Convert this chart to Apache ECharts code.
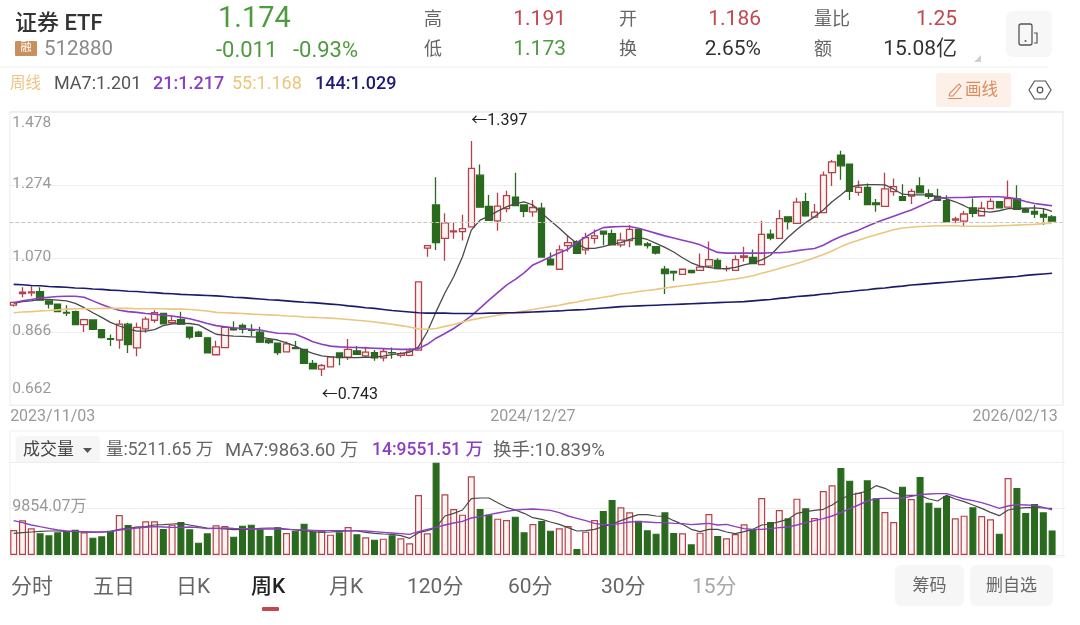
<!DOCTYPE html>
<html>
<head>
<meta charset="utf-8">
<title>证券ETF 周线</title>
<script src="https://cdn.jsdelivr.net/npm/echarts@6/dist/echarts.min.js"></script>
<style>
html, body {margin: 0; padding: 0; background: #fff;}
#chart {width: 1080px; height: 625px;}
</style>
</head>
<body>
<div id="chart"></div>
<script>
// 周K，每行 [开, 收, 低, 高]
var candleData = [
	[.940,.948,.936,.950],[.972,.976,.962,.990],[.974,.977,.965,.993],[.978,.954,.952,.990],[.952,.943,.931,.952],
	[.943,.922,.922,.945],[.920,.918,.910,.940],[.922,.886,.884,.925],[.886,.900,.865,.902],[.899,.873,.873,.901],
	[.872,.850,.847,.873],[.847,.845,.826,.858],[.843,.887,.819,.899],[.887,.830,.807,.891],[.821,.878,.798,.891],
	[.874,.901,.863,.908],[.898,.919,.891,.926],[.917,.888,.887,.919],[.891,.897,.887,.912],[.900,.887,.887,.922],
	[.879,.851,.845,.880],[.865,.853,.853,.869],[.849,.807,.807,.850],[.802,.824,.800,.841],[.822,.878,.820,.880],
	[.875,.871,.869,.895],[.884,.873,.861,.889],[.872,.870,.854,.887],[.865,.837,.835,.880],[.843,.836,.832,.847],
	[.834,.808,.801,.835],[.810,.832,.808,.839],[.822,.819,.817,.840],[.817,.778,.778,.817],[.778,.763,.761,.787],
	[.762,.772,.743,.776],[.768,.796,.768,.798],[.807,.794,.773,.808],[.795,.817,.787,.846],[.813,.803,.801,.826],
	[.799,.809,.796,.824],[.808,.793,.785,.815],[.793,.811,.784,.818],[.808,.807,.791,.822],[.800,.805,.794,.809],
	[.800,.812,.798,.820],[.815,1.005,.813,1.005],[1.099,1.106,1.075,1.106],[1.219,1.114,1.094,1.296],[1.126,1.169,1.064,1.196],
	[1.144,1.147,1.125,1.170],[1.145,1.153,1.120,1.192],[1.158,1.321,1.158,1.397],[1.302,1.213,1.213,1.332],[1.215,1.176,1.176,1.247],
	[1.175,1.216,1.147,1.253],[1.209,1.245,1.199,1.259],[1.241,1.217,1.217,1.309],[1.219,1.201,1.185,1.219],[1.200,1.212,1.186,1.233],
	[1.210,1.074,1.074,1.225],[1.068,1.052,1.052,1.087],[1.040,1.094,1.040,1.107],[1.106,1.114,1.089,1.135],[1.117,1.084,1.084,1.121],
	[1.094,1.128,1.081,1.142],[1.126,1.133,1.112,1.151],[1.146,1.138,1.107,1.146],[1.139,1.108,1.108,1.151],[1.108,1.121,1.101,1.142],
	[1.120,1.151,1.101,1.163],[1.151,1.108,1.108,1.154],[1.111,1.106,1.098,1.116],[1.103,1.085,1.081,1.105],[1.040,1.028,.971,1.049],
	[1.034,1.030,1.008,1.034],[1.026,1.040,1.026,1.040],[1.037,1.031,1.028,1.038],[1.037,1.046,1.035,1.084],[1.049,1.067,1.046,1.117],
	[1.065,1.042,1.041,1.071],[1.041,1.042,1.034,1.050],[1.037,1.067,1.037,1.079],[1.073,1.077,1.061,1.103],[1.073,1.056,1.054,1.095],
	[1.053,1.137,1.053,1.175],[1.138,1.127,1.121,1.151],[1.126,1.181,1.126,1.205],[1.186,1.171,1.151,1.186],[1.168,1.227,1.168,1.239],
	[1.228,1.189,1.186,1.253],[1.185,1.199,1.185,1.222],[1.198,1.302,1.198,1.312],[1.309,1.339,1.272,1.344],[1.358,1.328,1.289,1.370],
	[1.333,1.257,1.233,1.333],[1.254,1.268,1.245,1.287],[1.268,1.220,1.220,1.279],[1.225,1.220,1.200,1.236],[1.215,1.264,1.215,1.309],
	[1.256,1.270,1.245,1.293],[1.242,1.232,1.232,1.277],[1.244,1.257,1.222,1.264],[1.272,1.253,1.253,1.296],[1.250,1.243,1.236,1.263],
	[1.243,1.232,1.232,1.264],[1.231,1.172,1.172,1.246],[1.177,1.180,1.168,1.186],[1.174,1.194,1.159,1.202],[1.211,1.196,1.185,1.237],
	[1.189,1.210,1.189,1.228],[1.209,1.229,1.209,1.238],[1.228,1.211,1.211,1.228],[1.213,1.237,1.213,1.287],[1.236,1.207,1.207,1.274],
	[1.207,1.199,1.199,1.212],[1.201,1.194,1.183,1.219],[1.193,1.185,1.163,1.208],[1.186,1.174,1.173,1.191]
];

// 均线
var ma7 = [
	.945,.950,.952,.956,.956,.954,.952,.945,.933,.919,.906,.892,.882,.874,.868,.868,.872,.883,.888,.889,
	.889,.885,.872,.859,.856,.854,.853,.852,.851,.847,.843,.835,.826,.815,.806,.799,.796,.795,.794,.794,
	.795,.795,.798,.802,.806,.809,.824,.866,.922,.974,1.019,1.075,1.149,1.177,1.188,1.202,1.214,1.223,1.228,1.219,
	1.196,1.175,1.154,1.132,1.112,1.098,1.098,1.103,1.110,1.114,1.123,1.129,1.123,1.112,1.101,1.088,1.072,1.058,1.049,1.045,
	1.042,1.042,1.045,1.052,1.058,1.066,1.079,1.105,1.129,1.151,1.170,1.186,1.205,1.228,1.247,1.268,1.274,1.276,1.276,1.275,
	1.263,1.249,1.247,1.247,1.247,1.242,1.236,1.228,1.217,1.205,1.201,1.199,1.203,1.209,1.210,1.210,1.211,1.209,1.201
];
var ma21 = [
	.947,.952,.956,.960,.962,.964,.965,.965,.962,.952,.942,.933,.926,.922,.920,.917,.915,.912,.910,.906,
	.902,.896,.889,.883,.880,.877,.875,.873,.871,.866,.862,.861,.859,.849,.838,.831,.826,.824,.823,.822,
	.821,.820,.819,.818,.817,.817,.819,.831,.848,.861,.875,.892,.910,.932,.954,.975,.996,1.012,1.030,1.052,
	1.063,1.075,1.086,1.096,1.115,1.130,1.145,1.156,1.158,1.159,1.159,1.154,1.147,1.140,1.133,1.127,1.121,1.115,1.108,1.097,
	1.087,1.085,1.085,1.085,1.085,1.085,1.086,1.086,1.088,1.092,1.095,1.098,1.107,1.120,1.131,1.140,1.149,1.160,1.170,1.179,
	1.188,1.197,1.205,1.216,1.227,1.238,1.239,1.240,1.240,1.241,1.242,1.242,1.242,1.240,1.236,1.229,1.223,1.220,1.217
];
var ma55 = [
	.919,.921,.922,.924,.925,.927,.929,.930,.930,.930,.931,.931,.931,.931,.930,.930,.930,.930,.929,.929,
	.928,.926,.924,.920,.919,.918,.917,.915,.914,.913,.912,.910,.909,.907,.906,.905,.904,.902,.900,.898,
	.896,.893,.890,.887,.883,.879,.874,.873,.875,.881,.886,.893,.899,.904,.908,.912,.916,.920,.924,.928,
	.932,.936,.940,.945,.949,.954,.958,.962,.966,.971,.974,.978,.981,.984,.988,.991,.994,.997,1.000,1.003,
	1.006,1.010,1.013,1.017,1.022,1.029,1.035,1.042,1.049,1.056,1.064,1.072,1.081,1.091,1.103,1.113,1.121,1.129,1.136,1.143,
	1.150,1.155,1.157,1.159,1.160,1.161,1.161,1.161,1.160,1.160,1.160,1.160,1.161,1.162,1.163,1.164,1.165,1.167,1.168
];
var ma144 = [
	.998,.997,.995,.994,.992,.991,.990,.988,.987,.985,.984,.982,.981,.979,.978,.976,.975,.973,.972,.970,
	.969,.968,.967,.966,.964,.962,.961,.959,.957,.955,.954,.952,.950,.948,.947,.945,.943,.941,.938,.936,
	.933,.931,.928,.925,.923,.921,.919,.918,.918,.918,.917,.917,.917,.917,.918,.918,.919,.919,.920,.921,
	.922,.923,.924,.926,.927,.928,.930,.932,.934,.936,.937,.938,.939,.940,.941,.942,.943,.944,.945,.946,
	.947,.948,.949,.950,.952,.954,.956,.959,.961,.964,.966,.968,.971,.973,.976,.978,.981,.983,.986,.988,
	.991,.993,.996,.998,1.000,1.002,1.004,1.006,1.008,1.010,1.012,1.014,1.016,1.018,1.020,1.023,1.025,1.027,1.029
];

// 成交量（万）
var volume = [
	5298,7347,5651,4592,4168,4804,5086,5369,4804,3673,3956,5157,8477,6358,6004,7135,7135,5510,6428,6993,
	5439,2614,4592,6287,6146,3885,6216,6428,5439,4026,5863,4662,5157,6640,4874,5157,4309,4804,5934,4380,
	3744,3249,3461,4168,3532,2472,12715,4592,19567,12856,9748,8547,16671,9748,8547,7700,7417,8124,4804,6570,
	7205,5157,5651,6146,1272,4945,7417,9324,11656,10102,9042,7276,5227,4521,9042,4662,4592,2260,4733,8689,
	4026,3532,4450,6499,5439,12079,6993,9536,7770,11938,9890,7841,13563,14764,18437,15753,13210,15823,12009,9113,
	6993,14481,11868,16530,11090,10031,12503,7770,8336,10102,8265,7559,4521,16318,14199,8901,10808,9042,5212
];
var volMa7 = [
	4592,4733,4874,5015,5086,5086,5015,4945,4874,4804,4874,5015,5439,5651,5934,6004,6358,6428,6570,6640,
	6358,6004,5722,5651,5510,5369,5439,5439,5651,5722,5722,5510,5298,5157,4945,4804,4874,5015,5086,5086,
	4804,4592,4450,4380,4097,3532,4733,5157,5792,8265,8830,9536,11938,12079,12079,11090,10102,9536,8830,7912,
	7558,6993,6499,5792,5086,5157,5439,6004,6570,7276,7982,8547,8547,8265,8194,7276,6499,5439,4945,5439,
	5439,4874,4521,4945,5439,6358,6570,7064,7558,8830,9183,9466,9678,10596,11797,12715,13068,13563,14693,14128,
	13210,12715,12645,12645,11868,11444,12645,11868,11302,10596,9890,9042,8336,9536,9890,10031,10102,9960,9864
];
var volMa14 = [
	7276,6852,6358,6004,5651,5298,5086,5015,4945,4874,4874,4945,5298,5510,5722,5863,6004,5934,5863,5863,
	5934,5792,5581,5651,5722,5651,5581,5510,5510,5510,5510,5439,5369,5298,5227,5157,5157,5157,5157,5157,
	5086,4945,4804,4662,4521,4380,4945,5439,5863,6358,6781,7135,7841,8124,8547,8901,9254,9536,9678,9748,
	9607,9466,8971,8265,7770,7276,6711,6428,6428,6711,6993,7064,6993,6852,6852,6711,6640,6428,6570,6711,
	6358,6499,6004,5581,5439,5439,5581,5792,5934,6358,6852,7276,7700,8265,8971,9819,10596,11444,11938,12009,
	12009,12079,12433,12786,12927,12998,12998,12433,11868,11514,11090,10525,9890,10384,10667,10596,10525,10102,9552
];

// 坐标轴刻度
var priceTicks = ['0.662', '0.866', '1.070', '1.274', '1.478'];
var volTick = 9854.07;
var dateIndex = [0, 59, 118];
var dateLabels = ['2023/11/03', '2024/12/27', '2026/02/13'];
var lastPrice = 1.174;
var highMark = [52, 1.397];
var lowMark = [35, 0.743];

var RED = '#b5424a';
var GREEN = '#2a6a1e';
var HOLLOW = '#fdf4f1';
var FONT = 'Roboto, "Noto Sans CJK SC", sans-serif';

// x轴多留一格空白
function getCategories() {
	var arr = [];
	for (var i = 0; i < candleData.length + 1; i++) {
		var k = dateIndex.indexOf(i);
		arr.push(k >= 0 ? dateLabels[k] : '');
	}
	return arr;
}

// 成交量柱的颜色跟K线涨跌走
function getVolumeData() {
	var arr = [];
	for (var i = 0; i < volume.length; i++) {
		var up = candleData[i][1] >= candleData[i][0];
		arr.push({
			value: volume[i],
			itemStyle: {
				color: up ? HOLLOW : GREEN,
				borderColor: up ? RED : GREEN,
				borderWidth: 1.2
			}
		});
	}
	return arr;
}

function getLine(name, data, color, width, xIndex) {
	return {
		name: name,
		type: 'line',
		data: data,
		xAxisIndex: xIndex,
		yAxisIndex: xIndex,
		symbol: 'none',
		silent: true,
		lineStyle: {color: color, width: width}
	};
}

// 文字
function txt(x, y, str, size, color, align, weight) {
	return {
		type: 'text',
		x: x,
		y: y,
		style: {
			text: str,
			fontSize: size,
			fontFamily: FONT,
			fontWeight: weight || 'normal',
			fill: color,
			align: align || 'left',
			verticalAlign: 'middle'
		}
	};
}

function box(x, y, w, h, fill, r, z) {
	return {type: 'rect', z: z || 0, shape: {x: x, y: y, width: w, height: h, r: r || 0}, style: {fill: fill}};
}

function hline(x1, x2, y, color) {
	return {type: 'line', shape: {x1: x1, y1: y, x2: x2, y2: y}, style: {stroke: color, lineWidth: 1}};
}

function getGraphics() {
	var g = [];
	// 面板边框
	g.push({type: 'rect', shape: {x: 10, y: 111.5, width: 1053, height: 293.5}, style: {fill: 'none', stroke: '#ececec', lineWidth: 1}});
	g.push({type: 'rect', shape: {x: 10, y: 431, width: 1053, height: 126}, style: {fill: 'none', stroke: '#efefef', lineWidth: 1}});
	g.push(hline(0, 1048, 67, '#eeeeee'));
	g.push(box(1063.5, 105, 8, 305, '#ffffff', 0, 100));
	g.push({type: 'line', z: 101, shape: {x1: 1063, y1: 111.5, x2: 1063, y2: 405}, style: {stroke: '#ececec', lineWidth: 1}});

	// 顶部行情
	g.push(txt(15, 24, '证券 ETF', 22, '#333333', 'left', 500));
	g.push(box(15, 41, 22, 15, '#c98f5d', 1));
	g.push(txt(26, 48.5, '融', 11, '#ffffff', 'center'));
	g.push(txt(44, 50, '512880', 20.5, '#8a8a8a'));
	g.push(txt(218, 20, '1.174', 29, '#4e9a3e'));
	g.push(txt(216, 51, '-0.011', 22, '#4e9a3e'));
	g.push(txt(293, 51, '-0.93%', 22, '#4e9a3e'));
	g.push(txt(424, 20, '高', 18, '#666666'));
	g.push(txt(424, 50, '低', 18, '#666666'));
	g.push(txt(566, 20, '1.191', 21, '#c2474e', 'right'));
	g.push(txt(566, 50, '1.173', 21, '#4e9a3e', 'right'));
	g.push(txt(619, 20, '开', 18, '#666666'));
	g.push(txt(619, 50, '换', 18, '#666666'));
	g.push(txt(761, 20, '1.186', 21, '#c2474e', 'right'));
	g.push(txt(761, 50, '2.65%', 21, '#333333', 'right'));
	g.push(txt(814, 20, '量比', 18, '#666666'));
	g.push(txt(814, 50, '额', 18, '#666666'));
	g.push(txt(957, 20, '1.25', 21, '#c2474e', 'right'));
	g.push(txt(957, 50, '15.08亿', 21, '#333333', 'right'));
	g.push({type: 'polygon', shape: {points: [[981, 55], [981, 62], [974, 62]]}, style: {fill: '#cfcfcf'}});

	// 横屏按钮
	g.push(box(1006, 11, 46, 46, '#f7f7f7', 6));
	g.push({type: 'rect', shape: {x: 1019, y: 24, width: 13, height: 21, r: 2}, style: {fill: 'none', stroke: '#555555', lineWidth: 1.3}});
	g.push({type: 'circle', shape: {cx: 1025.5, cy: 41, r: 1}, style: {fill: '#555555'}});
	g.push({type: 'polyline', shape: {points: [[1034, 33], [1037, 33], [1037, 43], [1034, 43]]}, style: {fill: 'none', stroke: '#555555', lineWidth: 1.2}});

	// 均线图例
	g.push(txt(10, 84, '周线', 15.5, '#eec585'));
	g.push(txt(54, 84, 'MA7:1.201', 18, '#555555'));
	g.push(txt(153, 84, '21:1.217', 18, '#8a3fc4', 'left', 500));
	g.push(txt(232, 84, '55:1.168', 18, '#e9c67c'));
	g.push(txt(315, 84, '144:1.029', 18, '#1e1a78', 'left', 500));

	// 画线按钮
	g.push(box(936, 73, 75, 34, '#fcf0e8', 3));
	g.push({type: 'polyline', shape: {points: [[949, 96], [953, 96], [961, 86], [959, 84], [950, 93], [949, 96]]}, style: {fill: 'none', stroke: '#d98c5e', lineWidth: 1.1}});
	g.push(hline(948, 962, 98.5, '#d98c5e'));
	g.push(txt(965, 91, '画线', 16.5, '#d98c5e'));
	g.push({type: 'polygon', shape: {points: [[1029, 90], [1034.5, 81], [1045.5, 81], [1051, 90], [1045.5, 99], [1034.5, 99]]}, style: {fill: 'none', stroke: '#555555', lineWidth: 1.2}});
	g.push({type: 'circle', shape: {cx: 1040, cy: 90, r: 2.8}, style: {fill: 'none', stroke: '#555555', lineWidth: 1.2}});

	// 成交量标题
	g.push(box(16, 436, 84, 27, '#f6f6f6', 4));
	g.push(txt(23, 451, '成交量', 17, '#444444'));
	g.push({type: 'polygon', shape: {points: [[83, 448], [92, 448], [87.5, 453]]}, style: {fill: '#555555'}});
	g.push(txt(106, 451, '量:5211.65 万', 17.5, '#666666'));
	g.push(txt(225, 451, 'MA7:9863.60 万', 18.5, '#666666'));
	g.push(txt(372, 451, '14:9551.51 万', 17.5, '#8a3fc4', 'left', 500));
	g.push(txt(493, 451, '换手:10.839%', 18.5, '#666666'));

	// 底部周期
	g.push(txt(11, 588, '分时', 21, '#666666'));
	g.push(txt(93, 588, '五日', 21, '#666666'));
	g.push(txt(176, 588, '日K', 21, '#666666'));
	g.push(txt(251, 588, '周K', 21, '#222222', 'left', 500));
	g.push(txt(329, 588, '月K', 21, '#666666'));
	g.push(txt(407, 588, '120分', 21, '#666666'));
	g.push(txt(508, 588, '60分', 21, '#666666'));
	g.push(txt(601, 588, '30分', 21, '#666666'));
	g.push(txt(692, 588, '15分', 21, '#a8a8a8'));
	g.push(box(262, 607, 17, 4, '#c2474e', 1));
	g.push(box(895, 565, 69, 41, '#f6f6f6', 6));
	g.push(txt(929.5, 587, '筹码', 17, '#666666', 'center'));
	g.push(box(970, 565, 83, 41, '#f6f6f6', 6));
	g.push(txt(1011.5, 587, '删自选', 17, '#666666', 'center'));
	return g;
}

function getOption() {
	var categories = getCategories();
	return {
		animation: false,
		backgroundColor: '#ffffff',
		textStyle: {fontFamily: FONT},
		grid: [
			{left: 9.3, top: 112, width: 1056, height: 293},
			{left: 9.3, top: 462, width: 1056, height: 93}
		],
		xAxis: [
			{
				type: 'category',
				data: categories,
				gridIndex: 0,
				boundaryGap: true,
				axisLine: {show: false},
				axisTick: {show: false},
				splitLine: {show: false},
				axisLabel: {
					show: true,
					hideOverlap: false,
					margin: 4,
					fontSize: 16,
					color: '#999999',
					interval: function(i) {
						return dateIndex.indexOf(i) >= 0;
					},
					formatter: function(v, i) {
						if (i == dateIndex[0]) return '{l|' + v + '}';
						if (i == dateIndex[2]) return '{r|' + v + '}';
						return v;
					},
					rich: {
						l: {fontSize: 16, color: '#999999', padding: [0, 0, 0, 78]},
						r: {fontSize: 16, color: '#999999', padding: [0, 74, 0, 0]}
					}
				}
			},
			{
				type: 'category',
				data: categories,
				gridIndex: 1,
				boundaryGap: true,
				axisLine: {show: false},
				axisTick: {show: false},
				axisLabel: {show: false},
				splitLine: {show: false}
			}
		],
		yAxis: [
			{
				type: 'value',
				gridIndex: 0,
				min: +priceTicks[0],
				max: +priceTicks[4],
				interval: 0.204,
				axisLine: {show: false},
				axisTick: {show: false},
				splitLine: {lineStyle: {color: '#efefef', width: 1}},
				axisLabel: {
					inside: true,
					margin: 3,
					fontSize: 15.5,
					color: '#999999',
					formatter: function(v) {
						var t = v.toFixed(3);
						if (t == priceTicks[4]) return '{t|' + t + '}';
						if (t == priceTicks[0]) return '{b|' + t + '}';
						return '{m|' + t + '}';
					},
					rich: {
						t: {fontSize: 15.5, color: '#999999', padding: [22, 0, 0, 0]},
						m: {fontSize: 15.5, color: '#999999', padding: [0, 0, 2, 0]},
						b: {fontSize: 15.5, color: '#999999', padding: [0, 0, 32, 0]}
					}
				}
			},
			{
				type: 'value',
				gridIndex: 1,
				min: 0,
				max: volTick * 2,
				interval: volTick,
				axisLine: {show: false},
				axisTick: {show: false},
				splitLine: {lineStyle: {color: '#eeeeee', width: 1}},
				axisLabel: {
					inside: true,
					margin: 3,
					fontSize: 16,
					color: '#999999',
					formatter: function(v) {
						if (v == volTick) return '{m|' + v + '万}';
						return '';
					},
					rich: {
						m: {fontSize: 16, color: '#999999', padding: [0, 0, 3, 0]}
					}
				}
			}
		],
		series: [
			{
				name: '周K',
				type: 'candlestick',
				data: candleData,
				xAxisIndex: 0,
				yAxisIndex: 0,
				barWidth: 7,
				itemStyle: {
					color: HOLLOW,
					color0: GREEN,
					borderColor: RED,
					borderColor0: GREEN,
					borderWidth: 1.3
				},
				markLine: {
					silent: true,
					symbol: 'none',
					label: {show: false},
					lineStyle: {color: '#cdc4b8', type: 'dashed', width: 1},
					data: [{yAxis: lastPrice}]
				},
				markPoint: {
					silent: true,
					symbol: 'circle',
					symbolSize: 0,
					data: [
						{
							coord: highMark,
							label: {show: true, position: 'right', distance: 0, offset: [0, -20], formatter: '←' + highMark[1], fontSize: 16, color: '#222222'}
						},
						{
							coord: lowMark,
							label: {show: true, position: 'right', distance: 0, offset: [0, 19], formatter: '←' + lowMark[1], fontSize: 16, color: '#222222'}
						}
					]
				}
			},
			getLine('MA7', ma7, '#4a4a4a', 1.3, 0),
			getLine('MA21', ma21, '#8d3fbf', 1.6, 0),
			getLine('MA55', ma55, '#ebc67e', 1.6, 0),
			getLine('MA144', ma144, '#1b1a6d', 1.6, 0),
			{
				name: '成交量',
				type: 'bar',
				data: getVolumeData(),
				xAxisIndex: 1,
				yAxisIndex: 1,
				barWidth: 7
			},
			getLine('量MA7', volMa7, '#4a4a4a', 1.2, 1),
			getLine('量MA14', volMa14, '#8d3fbf', 1.4, 1)
		],
		graphic: {elements: getGraphics()}
	};
}

var myChart = echarts.init(document.getElementById('chart'));
myChart.setOption(getOption());
</script>
</body>
</html>
